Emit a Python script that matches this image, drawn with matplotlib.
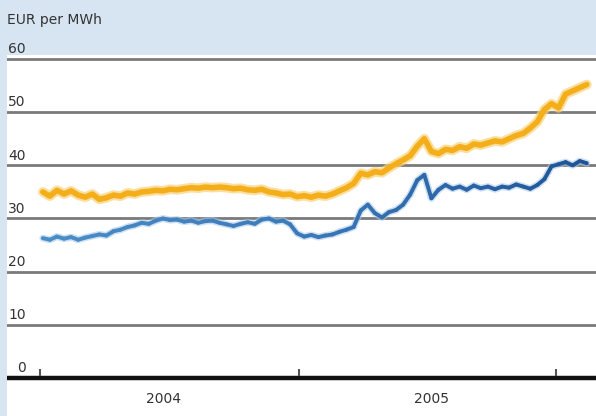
import numpy as np
import pandas as pd
from matplotlib import pyplot as plt
from matplotlib.collections import LineCollection
import matplotlib.dates as mdates

# price series, one reading every 10 days from early Jan 2004
dates = pd.date_range('2004-01-05', periods=78, freq='10D')

orange = [35.0, 34.2, 35.3, 34.6, 35.2, 34.4, 34.0, 34.6, 33.6, 33.9,
          34.4, 34.2, 34.8, 34.6, 35.0, 35.1, 35.3, 35.2, 35.5, 35.4,
          35.6, 35.8, 35.7, 35.9, 35.8, 35.9, 35.8, 35.6, 35.7, 35.4,
          35.3, 35.5, 35.0, 34.8, 34.5, 34.6, 34.1, 34.3, 34.0, 34.4,
          34.2, 34.6, 35.2, 35.8, 36.6, 38.5, 38.2, 38.8, 38.6, 39.5,
          40.3, 41.0, 41.8, 43.6, 45.0, 42.6, 42.2, 43.0, 42.8, 43.5,
          43.2, 44.0, 43.8, 44.2, 44.6, 44.4, 45.0, 45.6, 46.0, 47.0,
          48.2, 50.5, 51.6, 50.8, 53.4, 54.0, 54.6, 55.2]

blue = [26.3, 26.0, 26.6, 26.2, 26.5, 26.0, 26.4, 26.7, 27.0, 26.8,
        27.6, 27.9, 28.4, 28.7, 29.2, 29.0, 29.6, 30.0, 29.7, 29.8,
        29.4, 29.6, 29.2, 29.5, 29.6, 29.2, 28.9, 28.6, 29.0, 29.3,
        29.0, 29.8, 30.0, 29.4, 29.6, 28.9, 27.2, 26.6, 26.9, 26.5,
        26.8, 27.0, 27.5, 27.9, 28.4, 31.5, 32.6, 31.0, 30.2, 31.2,
        31.6, 32.6, 34.5, 37.2, 38.2, 33.8, 35.4, 36.3, 35.6, 36.0,
        35.4, 36.2, 35.7, 36.0, 35.5, 36.0, 35.8, 36.4, 36.0, 35.6,
        36.3, 37.4, 39.8, 40.2, 40.6, 40.0, 40.8, 40.4]

yticks = [0, 10, 20, 30, 40, 50, 60]
year_ticks = pd.to_datetime(['2004-01-01', '2005-01-01', '2006-01-01'])
year_labels = ['2004', '2005']
year_label_pos = pd.to_datetime(['2004-06-24', '2005-07-08'])

bg = '#d7e5f3'
fig = plt.figure(figsize=(5.96, 4.16), dpi=100, facecolor=bg)
ax = fig.add_axes([7 / 596, 0, 1 - 7 / 596, 1 - 55 / 416])
ax.set_facecolor('white')

t0 = pd.Timestamp('2004-01-01')
ax.set_xlim(t0 - pd.Timedelta(days=46.7), t0 + pd.Timedelta(days=787))
ax.set_ylim(-7.15, 60.75)

for v in yticks[1:]:
    ax.axhline(v, color='#7a7a7a', lw=2.0, zorder=1)
ax.axhline(0, color='#111111', lw=3.2, zorder=4)

for v in yticks:
    ax.annotate(str(v), xy=(0, v), xycoords=ax.get_yaxis_transform(),
                xytext=(13.5, 2), textcoords='offset points', ha='right',
                va='bottom', fontsize=10, color='#333333')

fig.text(7 / 596, 1 - 20 / 416, 'EUR per MWh', ha='left', va='center',
         fontsize=10, color='#333333')

for d in year_ticks:
    ax.plot([d, d], [0.4, 1.6], color='#555555', lw=1.5, zorder=4,
            solid_capstyle='butt')

for d, lab in zip(year_label_pos, year_labels):
    ax.text(d, -3.9, lab, ha='center', va='center', fontsize=10,
            color='#333333')

# orange: soft halo plus core
ax.plot(dates, orange, color='#fad27a', lw=7, alpha=0.7, zorder=2,
        solid_capstyle='round')
ax.plot(dates, orange, color='#f4ae1a', lw=4, zorder=3,
        solid_capstyle='round')

# blue: lighter in 2004, darker towards the end
xn = mdates.date2num(dates)
pts = np.column_stack([xn, blue]).reshape(-1, 1, 2)
segs = np.concatenate([pts[:-1], pts[1:]], axis=1)
ax.plot(dates, blue, color='#a9cbe8', lw=5, alpha=0.6, zorder=2,
        solid_capstyle='round')
lc = LineCollection(segs, cmap=plt.cm.colors.LinearSegmentedColormap.from_list(
    'b', ['#4a8dc6', '#3a78b8', '#1f5596']), lw=2.8, zorder=3,
    capstyle='round')
lc.set_array(np.linspace(0, 1, len(segs)))
ax.add_collection(lc)

ax.set_xticks([])
ax.set_yticks([])
for s in ax.spines.values():
    s.set_visible(False)

fig.savefig('out.png', dpi=100, facecolor=bg)
